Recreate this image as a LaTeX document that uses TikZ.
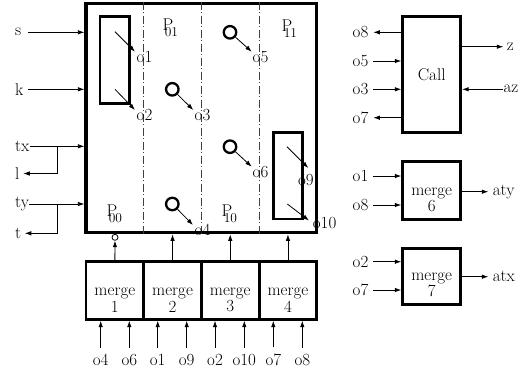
\documentclass[tikz,border=0pt]{standalone}
\usetikzlibrary{arrows.meta,calc}
\newcommand{\Psub}[1]{P\kern-8.6pt\raisebox{-6pt}{\fontsize{13.5}{13.5}\selectfont #1}}
\begin{document}
\begin{tikzpicture}[x=1pt,y=-1pt,
  every node/.style={font=\fontsize{17}{16.6}\selectfont, inner sep=0pt},
  boxthick/.style={draw, line width=2.8pt},
  arr/.style={-{Latex[length=6.5pt,width=4.5pt]}, line width=0.8pt},
  circ/.style={circle, draw, line width=2.3pt, minimum size=12.5pt},
  smallcirc/.style={circle, draw, line width=0.8pt, minimum size=6pt},
  sepline/.style={line width=0.7pt, black!75, dash pattern=on 8pt off 2.5pt on 1pt off 2.5pt}]
\useasboundingbox (0,0) rectangle (526,373);

% main block
\node[boxthick, line width=3.2pt, minimum width=230.7pt, minimum height=229.4pt] (main) at (201.35,118) {};
\foreach \f in {0.25,0.5,0.75}
  \draw[sepline] ($(main.north west)!\f!(main.north east)$) -- ($(main.south west)!\f!(main.south east)$);

% P labels
\node[anchor=north west] (p01) at (162.5,18.3) {\Psub{01}};
\node[anchor=north west] (p11) at (281.5,20) {\Psub{11}};
\node[anchor=north west] (p00) at (106.5,205) {\Psub{00}};
\node[anchor=north west] (p10) at (221.5,205) {\Psub{10}};

% inner rectangles
\node[boxthick, minimum width=29.3pt, minimum height=87pt] (r1) at (114.65,60.2) {};
\node[boxthick, minimum width=29.4pt, minimum height=86.3pt] (r2) at (288,175.85) {};

\coordinate (a1s) at (115,31.7); \coordinate (a1e) at (135,51.7);
\coordinate (a2s) at (115,89.3); \coordinate (a2e) at (135,110);
\draw[arr] (a1s) -- (a1e);
\draw[arr] (a2s) -- (a2e);
\node[anchor=west] (lo1) at (136.5,57) {o1};
\node[anchor=west] (lo2) at (136.5,115) {o2};

\coordinate (a9s) at (287,146.7); \coordinate (a9e) at (308.3,168);
\coordinate (a10s) at (287.3,204); \coordinate (a10e) at (309,220.5);
\draw[arr] (a9s) -- (a9e);
\draw[arr] (a10s) -- (a10e);
\node[anchor=west] (lo9) at (297.8,180) {o9};
\node[anchor=west] (lo10) at (312.7,223.3) {o10};

% circles
\node[circ] (c3) at (172.3,89.3) {};
\node[circ] (c5) at (230,32.3) {};
\node[circ] (c6) at (230,146.7) {};
\node[circ] (c4) at (172.3,204) {};
\coordinate (e3) at (193.3,110);
\coordinate (e5) at (251.7,51.7);
\coordinate (e6) at (251.7,166.7);
\coordinate (e4) at (193,225);
\draw[arr] (c3) -- (e3);
\draw[arr] (c5) -- (e5);
\draw[arr] (c6) -- (e6);
\draw[arr] (c4) -- (e4);
\node[anchor=west] (lo3) at (194.5,115) {o3};
\node[anchor=west] (lo5) at (252.5,57) {o5};
\node[anchor=west] (lo6) at (252.5,172.5) {o6};
\node[anchor=west] (lo4) at (194.5,230) {o4};

% left inputs
\node[anchor=west] (ls) at (15,32.3) {s};
\node[anchor=west] (lk) at (15,89.3) {k};
\node[anchor=west] (ltx) at (15,146.3) {tx};
\node[anchor=west] (ll) at (15,173.5) {l};
\node[anchor=west] (lty) at (15,204) {ty};
\node[anchor=west] (lt) at (15,233.3) {t};
\draw[arr, shorten <=6.5pt] (ls.east) -- (ls.east -| main.west);
\draw[arr, shorten <=4.3pt] (lk.east) -- (lk.east -| main.west);
\draw[arr] (ltx.east) -- (ltx.east -| main.west);
\draw[arr] (lty.east) -- (lty.east -| main.west);
\coordinate (jtx) at (57.3,146.3);
\coordinate (jty) at (57.3,204);
\draw[arr, shorten >=3.6pt] (jtx) |- (ll.east);
\draw[arr, shorten >=3.4pt] (jty) |- (lt.east);

% merge boxes 1-4
\foreach \i/\cx in {1/114.85,2/172.55,3/230.25,4/287.95} {
  \node[boxthick, minimum width=57.7pt, minimum height=57.6pt] (m\i) at (\cx,290.5) {};
  \node[align=center] (mt\i) at (\cx,300) {merge\\\i};
}
\node[smallcirc] (sc) at (115,237.3) {};
\draw[arr] (m1.north) -- (sc);
\foreach \i in {2,3,4}
  \draw[arr] (m\i.north) -- (m\i.north |- main.south);

\foreach \n/\x/\t/\m in {b1/100.7/o4/m1, b2/129.3/o6/m1, b3/157.7/o1/m2, b4/186.7/o9/m2, b5/215/o2/m3, b6/244.3/o10/m3, b7/273.3/o7/m4, b8/302.3/o8/m4} {
  \node (\n) at (\x,360) {\t};
  \draw[arr, shorten <=6.5pt] (\n.north) -- (\n.north |- \m.south);
}

% Call block
\node[boxthick, minimum width=58pt, minimum height=115.6pt] (call) at (431.7,74.5) {Call};
\node[anchor=east] (r8) at (368.5,32.3) {o8};
\node[anchor=east] (r5) at (368.5,61) {o5};
\node[anchor=east] (r3) at (368.5,89.3) {o3};
\node[anchor=east] (r7) at (368.5,117.7) {o7};
\draw[arr, shorten >=4.8pt] (r8 -| call.west) -- (r8.east);
\draw[arr, shorten <=4.8pt] (r5.east) -- (r5 -| call.west);
\draw[arr, shorten <=4.8pt] (r3.east) -- (r3 -| call.west);
\draw[arr, shorten >=4.8pt] (r7 -| call.west) -- (r7.east);
\node[anchor=west] (rz) at (506.7,46.7) {z};
\node[anchor=west] (raz) at (503.3,89.3) {az};
\draw[arr, shorten >=3.4pt] (rz -| call.east) -- (rz.west);
\draw[arr] (raz.west) -- (raz -| call.east);

% merge 6
\node[boxthick, minimum width=58pt, minimum height=57.6pt] (m6) at (431.7,190.5) {};
\node[align=center] (mt6) at (431.7,200) {merge\\6};
\node[anchor=east] (q1) at (368.5,176) {o1};
\node[anchor=east] (q8) at (368.5,205) {o8};
\draw[arr, shorten <=4.8pt] (q1.east) -- (q1 -| m6.west);
\draw[arr, shorten <=4.8pt] (q8.east) -- (q8 -| m6.west);
\node[anchor=west] (raty) at (492.7,191.7) {aty};
\draw[arr, shorten >=4.4pt] (raty -| m6.east) -- (raty.west);

% merge 7
\node[boxthick, minimum width=58pt, minimum height=56pt] (m7) at (431.7,276.3) {};
\node[align=center] (mt7) at (431.7,285) {merge\\7};
\node[anchor=east] (p2) at (368.5,261.7) {o2};
\node[anchor=east] (p7) at (368.5,290) {o7};
\draw[arr, shorten <=4.8pt] (p2.east) -- (p2 -| m7.west);
\draw[arr, shorten <=4.8pt] (p7.east) -- (p7 -| m7.west);
\node[anchor=west] (ratx) at (492.7,276.7) {atx};
\draw[arr, shorten >=4.4pt] (ratx -| m7.east) -- (ratx.west);
\end{tikzpicture}
\end{document}
